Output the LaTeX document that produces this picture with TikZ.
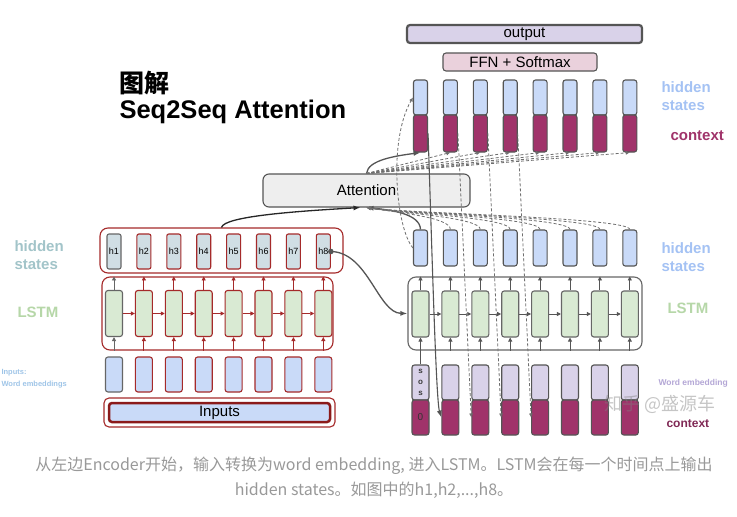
\documentclass[tikz,border=0pt]{standalone}
\usepackage{fontspec}
\setmainfont{Liberation Sans}
\newfontfamily\cjk{Noto Sans CJK SC}
\usetikzlibrary{arrows.meta, calc}
\definecolor{cred}{HTML}{A52A2A}
\definecolor{cdred}{HTML}{8B1A1A}
\definecolor{cgrey}{HTML}{666666}
\definecolor{cdark}{HTML}{555555}
\definecolor{chid}{HTML}{D0DEE4}
\definecolor{cgreen}{HTML}{D9EAD3}
\definecolor{cblue}{HTML}{C9DAF8}
\definecolor{clav}{HTML}{D9D2E9}
\definecolor{cmag}{HTML}{A0336A}
\definecolor{cpink}{HTML}{EAD1DC}
\definecolor{catt}{HTML}{EEEEEE}
\definecolor{cteal}{HTML}{A2C4C9}
\definecolor{clblue}{HTML}{A4C2F4}
\definecolor{clgreen}{HTML}{B6D7A8}
\definecolor{clvtxt}{HTML}{B4A7D6}
\definecolor{cinp}{HTML}{9FC5E8}
\definecolor{ccap}{HTML}{999999}
\tikzset{
  every picture/.style={line width=1.1pt},
  wrap/.style={draw=#1, rounded corners=8pt, inner sep=0pt},
  hstate/.style={draw=#1, fill=chid, rounded corners=2pt, minimum width=14pt, minimum height=35pt, inner sep=0pt, font=\fontsize{9}{9}\selectfont},
  cellbox/.style={draw=#1, fill=cgreen, rounded corners=2.5pt, minimum width=17pt, minimum height=46pt, inner sep=0pt},
  embbox/.style 2 args={draw=#1, fill=#2, rounded corners=2.5pt, minimum width=17pt, minimum height=35pt, inner sep=0pt},
  colbox/.style={draw=cdark, fill=#1, rounded corners=2.5pt, minimum width=14pt, inner sep=0pt},
  bar/.style={draw=cdark, fill=#1, rounded corners=3pt, inner sep=0pt, font=\fontsize{15}{15}\selectfont},
  lstmarr/.style={-{Triangle[length=4pt,width=4pt]}, draw=#1, line width=0.9pt},
  curvearr/.style={-{Latex[length=7pt,width=5pt]}, draw=cdark, line width=1.3pt},
  dasharr/.style={-{Latex[length=4pt,width=4pt]}, draw=cdark!85, dash pattern=on 3pt off 2pt, line width=0.8pt},
  lbl/.style={font=\fontsize{15}{18}\selectfont\bfseries, align=left, anchor=west, inner sep=0pt},
  small/.style={font=\fontsize{8.5}{12}\selectfont\bfseries, align=left, anchor=west, inner sep=0pt},
  caption/.style={font=\cjk\fontsize{16}{16}\selectfont, text=ccap, inner sep=0pt},
}
\begin{document}
\begin{tikzpicture}[x=1pt, y=-1pt]
  \useasboundingbox (0,0) rectangle (737,517);
  \fill[white] (0,0) rectangle (737,517);
  % title
  \node[anchor=west, inner sep=0pt, font=\cjk\fontsize{25}{25}\selectfont\bfseries] (ttl) at (119,83) {图解};
  \node[anchor=west, inner sep=0pt, font=\fontsize{25.5}{25}\selectfont\bfseries] (ttl2) at (119,112) {Seq2Seq Attention};
  % encoder
  \node[wrap=cred, minimum width=243pt, minimum height=45pt] (ehwrap) at (221.5,250.5) {};
  \node[wrap=cred, minimum width=231pt, minimum height=73pt] (elwrap) at (217.5,313.5) {};
  \foreach \i/\bc in {1/cgrey,2/cred,3/cred,4/cred,5/cred,6/cred,7/cred,8/cred} {
    \pgfmathsetmacro\encx{114+29.9*(\i-1)}
    \node[hstate=\bc] (h\i) at (\encx,251.5) {h\i};
    \node[cellbox=\bc] (ec\i) at (\encx,313.5) {};
    \node[embbox={\bc}{cblue}] (ee\i) at (\encx,374.5) {};
    \draw[lstmarr=\bc] (ec\i.north) -- (ec\i.north |- elwrap.north);
    \draw[lstmarr=\bc] (ec\i.south |- elwrap.south) -- (ec\i.south);
  }
  \foreach \i in {1,...,7} {
    \pgfmathtruncatemacro\j{\i+1}
    \draw[lstmarr=cred] (ec\i.east) -- (ec\j.west);
  }
  \node[draw=cred, rounded corners=5pt, minimum width=231pt, minimum height=29pt] (inwrap) at (219.5,412.5) {};
  \node[draw=cdred, fill=cblue, line width=2.5pt, rounded corners=3pt, minimum width=221pt, minimum height=19pt, inner sep=0pt, font=\fontsize{15}{15}\selectfont] (inp) at (219.5,412.5) {Inputs};
  % left labels
  \node[lbl, text=cteal] (lhid) at (14,255) {hidden\\states};
  \node[lbl, text=clgreen] (llstm) at (17,312) {LSTM};
  \node[small, text=cinp, font=\fontsize{7.5}{12}\selectfont\bfseries] (linp) at (1,379) {Inputs:\\Word embeddings};
  % attention and top bars
  \node[bar=catt, rounded corners=6pt, minimum width=207pt, minimum height=33pt] (att) at (366.5,190.5) {Attention};
  \node[bar=clav, line width=2.2pt, minimum width=235pt, minimum height=18pt] (outp) at (524.5,34) {output};
  \node[bar=cpink, minimum width=154pt, minimum height=18pt] (ffn) at (520,62) {FFN + Softmax};
  % decoder
  \node[wrap=cgrey, minimum width=234pt, minimum height=73pt] (dlwrap) at (525,313.5) {};
  \foreach \i in {1,...,8} {
    \pgfmathsetmacro\decx{420.5+29.9*(\i-1)}
    \node[colbox=cblue, minimum height=35pt] (th\i) at (\decx,97.5) {};
    \node[colbox=cmag, minimum height=37pt] (tx\i) at (\decx,133.5) {};
    \node[colbox=cblue, minimum height=36pt] (dh\i) at (\decx,248) {};
    \node[cellbox=cgrey] (dc\i) at (\decx,314) {};
    \node[embbox={cdark}{clav}] (dw\i) at (\decx,382.5) {};
    \node[embbox={cdark}{cmag}] (dx\i) at (\decx,417.5) {};
    \draw[lstmarr=cdark] (dc\i.north) -- (dc\i.north |- dlwrap.north);
  }
  \draw[lstmarr=cdark] (dw1.north) -- (dc1.south);
  \foreach \i in {2,...,8} \draw[lstmarr=cdark] (dc\i.south |- dlwrap.south) -- (dc\i.south);
  \foreach \i in {1,...,7} {
    \pgfmathtruncatemacro\j{\i+1}
    \draw[lstmarr=cdark] (dc\i.east) -- (dc\j.west);
  }
  \node[align=center, inner sep=0pt, text=cdark!70!black, font=\fontsize{8}{11}\selectfont\bfseries] (sos) at (dw1.center) {s\\o\\s};
  \node[inner sep=0pt, text=black!80, font=\fontsize{10}{10}\selectfont] (zero) at (dx1.center) {0};
  % right labels
  \node[lbl, text=clblue] (rhid) at (661,96) {hidden\\states};
  \node[lbl, text=cmag] (rctx) at (670,136) {context};
  \node[lbl, text=clblue] (rhid2) at (661,257) {hidden\\states};
  \node[lbl, text=clgreen] (rlstm) at (667,308) {LSTM};
  \node[small, text=clvtxt] (rword) at (658,383) {Word embedding};
  \node[lbl, text=cmag!80!black, font=\fontsize{12}{12}\selectfont\bfseries] (rctx2) at (666,424) {context};
  % attention connectors
  \draw[curvearr, draw=black!85] (ehwrap.north) .. controls (224,216) and (300,211) .. ($(att.south)+(-6,0)$);
  \draw[curvearr] (att.north) .. controls (368,160) and (395,156) .. (tx1.south);
  \foreach \i in {2,...,8} \draw[dasharr] (att.north) -- (tx\i.south);
  \draw[curvearr] (dh1.north) .. controls (420,214) and (392,210) .. (att.south);
  \foreach \i in {2,...,8} \draw[dasharr] (dh\i.north) .. controls ($(dh\i.north)+(0,-12)$) and (400,213) .. (att.south);
  \draw[dasharr] (dh1.west) .. controls (396,228) and (388,140) .. (th1.west);
  % feeding context back
  \draw[curvearr, line width=1.1pt] (tx1.east) .. controls (432,250) and (436,400) .. (dx2.west);
  \foreach \i in {2,3,4} {
    \pgfmathtruncatemacro\j{\i+1}
    \draw[dasharr] (tx\i.east) -- (dx\j.west);
  }
  % encoder to decoder
  \fill[cdark] (h8.east) circle (2.8pt);
  \draw[curvearr] (h8.east) .. controls (368,252) and (378,313) .. (dlwrap.west);
  % watermark
  \node[inner sep=0pt, text=gray, opacity=0.45, font=\cjk\fontsize{18}{18}\selectfont] (wm) at (660,404) {知乎 @盛源车};
  % caption
  \node[caption] (cap1) at (374,466) {从左边Encoder开始，输入转换为word embedding, 进入LSTM。LSTM会在每一个时间点上输出};
  \node[caption] (cap2) at (374,490) {hidden states。如图中的h1,h2,...,h8。};
\end{tikzpicture}
\end{document}
